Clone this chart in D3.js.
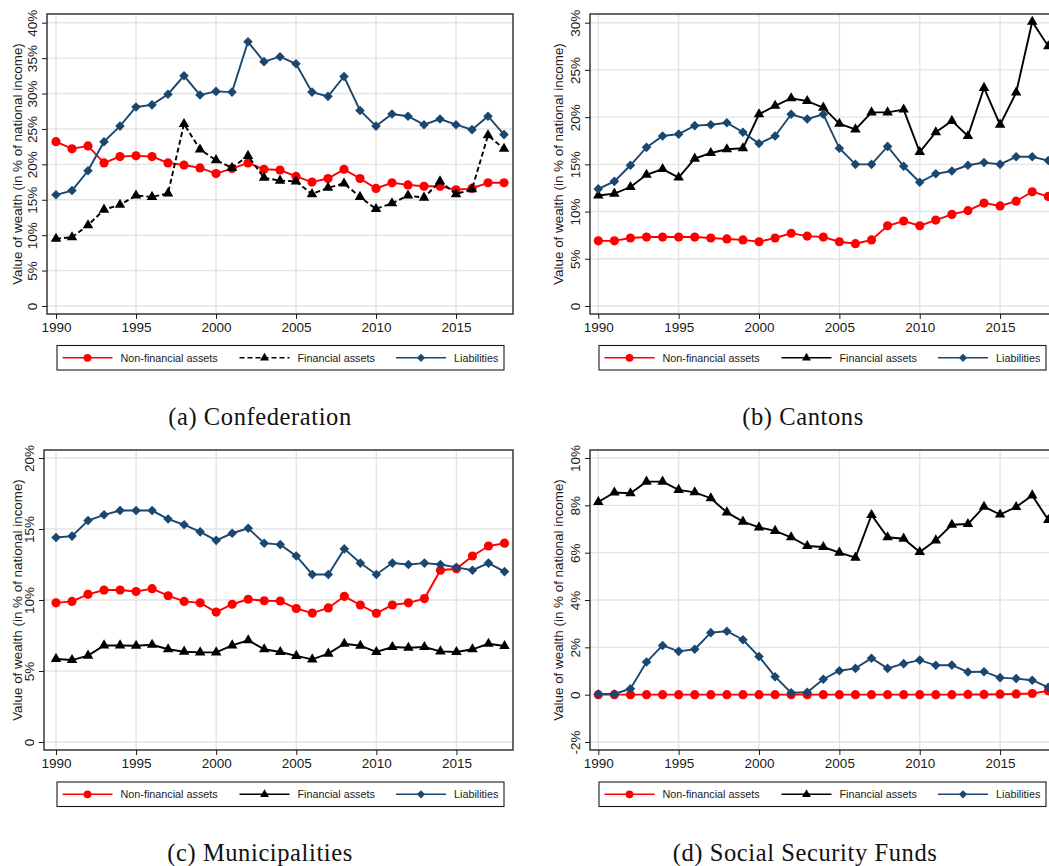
<!DOCTYPE html>
<html>
<head>
<meta charset="utf-8">
<script src="https://cdn.jsdelivr.net/npm/d3@7"></script>
<style>
  body { margin: 0; background: #fff; }
  svg { display: block; }
</style>
</head>
<body>
<div id="chart"></div>
<script>
const svgWidth = 1049;
const svgHeight = 866;

// years and x ticks
const years = [1990, 1991, 1992, 1993, 1994, 1995, 1996, 1997, 1998, 1999,
    2000, 2001, 2002, 2003, 2004, 2005, 2006, 2007, 2008, 2009,
    2010, 2011, 2012, 2013, 2014, 2015, 2016, 2017, 2018];
const xTicks = [1990, 1995, 2000, 2005, 2010, 2015];
const seriesNames = ["Non-financial assets", "Financial assets", "Liabilities"];

// (a) Confederation
const confNonFin = [23.2, 22.2, 22.6, 20.2, 21.1, 21.2, 21.1, 20.2, 19.9, 19.5,
    18.7, 19.4, 20.2, 19.3, 19.2, 18.3, 17.5, 18.0, 19.3, 18.0,
    16.6, 17.4, 17.1, 16.9, 16.9, 16.4, 16.6, 17.4, 17.4];
const confFin = [9.5, 9.7, 11.4, 13.6, 14.3, 15.6, 15.4, 15.9, 25.7, 22.1,
    20.6, 19.5, 21.2, 18.1, 17.7, 17.6, 15.8, 16.7, 17.3, 15.4,
    13.7, 14.5, 15.6, 15.3, 17.6, 15.8, 16.5, 24.1, 22.2];
const confLiab = [15.7, 16.3, 19.1, 23.2, 25.4, 28.1, 28.4, 29.9, 32.5, 29.8,
    30.3, 30.2, 37.3, 34.5, 35.2, 34.2, 30.2, 29.6, 32.4, 27.6,
    25.4, 27.1, 26.8, 25.6, 26.4, 25.6, 24.9, 26.8, 24.2];
const confTicks = [0, 5, 10, 15, 20, 25, 30, 35, 40];

// (b) Cantons
const cantNonFin = [6.9, 6.9, 7.2, 7.3, 7.3, 7.3, 7.3, 7.2, 7.1, 7.0,
    6.8, 7.2, 7.7, 7.4, 7.3, 6.8, 6.6, 7.0, 8.5, 9.0,
    8.5, 9.1, 9.7, 10.1, 10.9, 10.6, 11.1, 12.1, 11.6];
const cantFin = [11.7, 11.9, 12.6, 13.9, 14.5, 13.6, 15.6, 16.2, 16.6, 16.7,
    20.3, 21.2, 22.0, 21.7, 21.0, 19.3, 18.7, 20.5, 20.5, 20.8,
    16.3, 18.4, 19.6, 18.0, 23.1, 19.2, 22.6, 30.1, 27.5];
const cantLiab = [12.4, 13.2, 14.9, 16.8, 18.0, 18.2, 19.1, 19.2, 19.4, 18.4,
    17.2, 18.0, 20.3, 19.8, 20.3, 16.7, 15.0, 15.0, 16.9, 14.8,
    13.1, 14.0, 14.3, 14.9, 15.2, 15.0, 15.8, 15.8, 15.4];
const cantTicks = [0, 5, 10, 15, 20, 25, 30];

// (c) Municipalities
const munNonFin = [9.8, 9.9, 10.4, 10.7, 10.7, 10.6, 10.8, 10.3, 9.9, 9.8,
    9.15, 9.7, 10.05, 9.95, 9.93, 9.4, 9.08, 9.44, 10.26, 9.65,
    9.06, 9.65, 9.8, 10.1, 12.1, 12.2, 13.1, 13.8, 14.0];
const munFin = [5.85, 5.77, 6.08, 6.8, 6.8, 6.78, 6.85, 6.53, 6.36, 6.31,
    6.31, 6.8, 7.16, 6.53, 6.34, 6.06, 5.82, 6.22, 6.92, 6.78,
    6.34, 6.69, 6.64, 6.69, 6.38, 6.34, 6.53, 6.92, 6.76];
const munLiab = [14.4, 14.5, 15.6, 16.0, 16.3, 16.3, 16.3, 15.7, 15.3, 14.8,
    14.2, 14.7, 15.05, 14.0, 13.9, 13.1, 11.8, 11.8, 13.6, 12.6,
    11.8, 12.6, 12.5, 12.6, 12.5, 12.3, 12.1, 12.6, 12.0];
const munTicks = [0, 5, 10, 15, 20];

// (d) Social Security Funds
const ssfNonFin = [0, 0, 0, 0, 0, 0, 0, 0, 0, 0,
    0, 0, 0, 0, 0, 0, 0, 0, 0, 0,
    0, 0, 0, 0.01, 0.01, 0.02, 0.03, 0.05, 0.16];
const ssfFin = [8.14, 8.54, 8.51, 9.0, 9.0, 8.65, 8.55, 8.3, 7.7, 7.31,
    7.07, 6.92, 6.65, 6.28, 6.24, 6.0, 5.79, 7.59, 6.65, 6.59,
    6.03, 6.52, 7.18, 7.21, 7.94, 7.61, 7.93, 8.42, 7.38];
const ssfLiab = [0.03, 0.03, 0.25, 1.38, 2.08, 1.83, 1.92, 2.62, 2.68, 2.32,
    1.61, 0.76, 0.08, 0.1, 0.65, 1.01, 1.11, 1.54, 1.11, 1.31,
    1.46, 1.24, 1.25, 0.96, 0.97, 0.72, 0.68, 0.61, 0.31];
const ssfTicks = [-2, 0, 2, 4, 6, 8, 10];

const red = "#ff0000";
const navy = "#1a476f";
const gridColor = "#e4e4e4";
const sansFont = "'Liberation Sans', Arial, sans-serif";
const serifFont = "'Liberation Serif', 'Times New Roman', serif";

const svg = d3.select("#chart")
    .append("svg")
    .attr("width", svgWidth)
    .attr("height", svgHeight);

const panels = [
    {
        caption: "(a) Confederation",
        frame: {left: 47, top: 14, right: 513, bottom: 314},
        xRange: [56, 504],
        yDomain: [0, 40], yRange: [306, 22.7],
        yTicks: confTicks,
        titleX: 17,
        series: [confNonFin, confFin, confLiab],
        finDashed: true,
        legend: {x: 57, y: 345.5},
        captionX: 260, captionY: 425
    },
    {
        caption: "(b) Cantons",
        frame: {left: 590, top: 14, right: 1058, bottom: 314},
        xRange: [598.3, 1048.3],
        yDomain: [0, 30], yRange: [306, 22.7],
        yTicks: cantTicks,
        titleX: 558,
        series: [cantNonFin, cantFin, cantLiab],
        finDashed: false,
        legend: {x: 599, y: 345.5},
        captionX: 803, captionY: 425
    },
    {
        caption: "(c) Municipalities",
        frame: {left: 44, top: 450, right: 513, bottom: 750},
        xRange: [56, 504.5],
        yDomain: [0, 20], yRange: [742, 458],
        yTicks: munTicks,
        titleX: 17,
        series: [munNonFin, munFin, munLiab],
        finDashed: false,
        legend: {x: 57, y: 782},
        captionX: 260, captionY: 861
    },
    {
        caption: "(d) Social Security Funds",
        frame: {left: 590, top: 450, right: 1058, bottom: 750},
        xRange: [598.3, 1048.3],
        yDomain: [-2, 10], yRange: [742, 458],
        yTicks: ssfTicks,
        titleX: 558,
        series: [ssfNonFin, ssfFin, ssfLiab],
        finDashed: false,
        legend: {x: 599, y: 782},
        captionX: 805, captionY: 861
    }
];

const circleSym = d3.symbol().type(d3.symbolCircle).size(66);
const triSym = d3.symbol().type(d3.symbolTriangle).size(48);
const diaSym = d3.symbol().type(d3.symbolSquare).size(46);

function markerPath(i) {
    return i === 0 ? circleSym() : i === 1 ? triSym() : diaSym();
}
function markerRot(i) {
    return i === 2 ? " rotate(45)" : "";
}
const colors = [red, "#000", navy];

function drawPanel(p) {
    const f = p.frame;
    const x = d3.scaleLinear().domain([1990, 2018]).range(p.xRange);
    const y = d3.scaleLinear().domain(p.yDomain).range(p.yRange);
    const g = svg.append("g");

    // gridlines
    g.selectAll(".hgrid").data(p.yTicks).join("line")
        .attr("x1", f.left).attr("x2", f.right)
        .attr("y1", d => y(d)).attr("y2", d => y(d))
        .attr("stroke", gridColor).attr("stroke-width", 1.4);
    g.selectAll(".vgrid").data(xTicks).join("line")
        .attr("x1", d => x(d)).attr("x2", d => x(d))
        .attr("y1", f.top).attr("y2", f.bottom)
        .attr("stroke", gridColor).attr("stroke-width", 1.4);

    // frame
    g.append("rect")
        .attr("x", f.left).attr("y", f.top)
        .attr("width", f.right - f.left).attr("height", f.bottom - f.top)
        .attr("fill", "none").attr("stroke", "#1a1a1a").attr("stroke-width", 1.3);

    // y axis
    const yAxis = g.append("g")
        .attr("transform", `translate(${f.left},0)`)
        .call(d3.axisLeft(y).tickValues(p.yTicks).tickSize(5)
            .tickFormat(d => d === 0 ? "0" : d + "%"));
    yAxis.select(".domain").remove();
    yAxis.selectAll("line").attr("stroke", "#1a1a1a");
    yAxis.selectAll("text")
        .attr("x", 0).attr("dy", "0.35em")
        .attr("transform", "translate(-15,0) rotate(-90)")
        .attr("text-anchor", "middle")
        .attr("font-family", sansFont).attr("font-size", "13.5px")
        .attr("fill", "#1a1a1a");

    // x axis
    const xAxis = g.append("g")
        .attr("transform", `translate(0,${f.bottom})`)
        .call(d3.axisBottom(x).tickValues(xTicks).tickSize(5).tickPadding(3)
            .tickFormat(d3.format("d")));
    xAxis.select(".domain").remove();
    xAxis.selectAll("line").attr("stroke", "#1a1a1a");
    xAxis.selectAll("text")
        .attr("font-family", sansFont).attr("font-size", "13.5px")
        .attr("fill", "#1a1a1a");

    // y title
    g.append("text")
        .attr("transform", `translate(${p.titleX},${(f.top + f.bottom) / 2}) rotate(-90)`)
        .attr("dy", "0.35em")
        .attr("text-anchor", "middle")
        .attr("font-family", sansFont).attr("font-size", "13.4px")
        .attr("fill", "#1a1a1a")
        .text("Value of wealth (in % of national income)");

    // series
    const line = d3.line().x((d, i) => x(years[i])).y(d => y(d));
    p.series.forEach((vals, i) => {
        g.append("path")
            .datum(vals)
            .attr("d", line)
            .attr("fill", "none")
            .attr("stroke", colors[i])
            .attr("stroke-width", 1.9)
            .attr("stroke-dasharray", (i === 1 && p.finDashed) ? "5,3" : null);
        g.selectAll(".m" + i).data(vals).join("path")
            .attr("d", markerPath(i))
            .attr("transform", (d, j) => `translate(${x(years[j])},${y(d)})` + markerRot(i))
            .attr("fill", colors[i]);
    });

    // legend
    const lg = g.append("g").attr("transform", `translate(${p.legend.x},${p.legend.y})`);
    lg.append("rect")
        .attr("x", 0).attr("y", 0).attr("width", 447).attr("height", 24.5)
        .attr("fill", "#fff").attr("stroke", "#1a1a1a").attr("stroke-width", 1.1);
    const entryX = [5.5, 182.5, 339];
    seriesNames.forEach((name, i) => {
        const ex = entryX[i];
        lg.append("line")
            .attr("x1", ex).attr("x2", ex + 50)
            .attr("y1", 12.3).attr("y2", 12.3)
            .attr("stroke", colors[i]).attr("stroke-width", 1.6)
            .attr("stroke-dasharray", (i === 1 && p.finDashed) ? "5,3" : null);
        lg.append("path")
            .attr("d", markerPath(i))
            .attr("transform", `translate(${ex + 25},12.3)` + markerRot(i) + " scale(0.85)")
            .attr("fill", colors[i]);
        lg.append("text")
            .attr("x", ex + 58).attr("y", 12.3).attr("dy", "0.35em")
            .attr("font-family", sansFont).attr("font-size", "10.8px")
            .attr("fill", "#1a1a1a")
            .text(name);
    });

    // caption
    g.append("text")
        .attr("x", p.captionX).attr("y", p.captionY)
        .attr("text-anchor", "middle")
        .attr("font-family", serifFont).attr("font-size", "24.5px")
        .attr("letter-spacing", "0.6px")
        .attr("fill", "#111")
        .text(p.caption);
}

panels.forEach(drawPanel);
</script>
</body>
</html>
